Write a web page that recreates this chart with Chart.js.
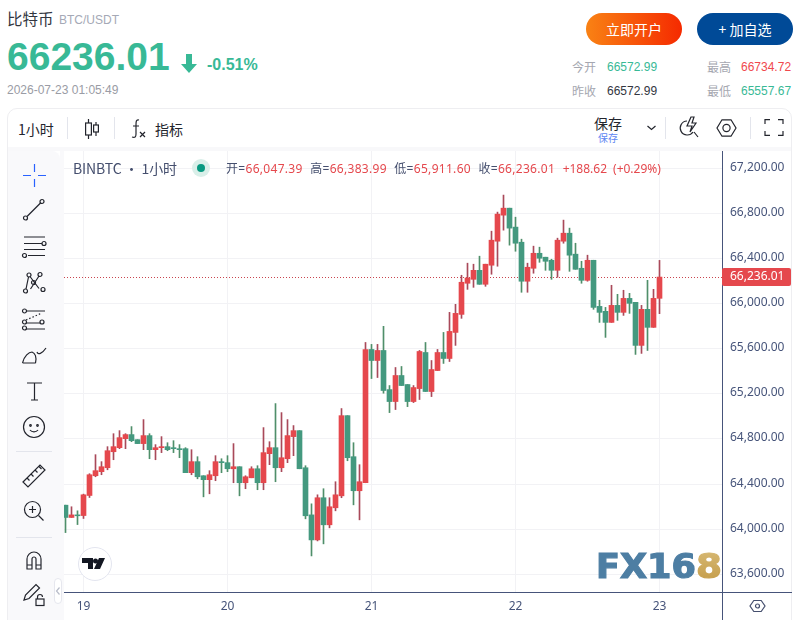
<!DOCTYPE html>
<html>
<head>
<meta charset="utf-8">
<script src="https://cdn.jsdelivr.net/npm/chart.js"></script>
<style>
    html, body { margin: 0; padding: 0; background: #fff; width: 800px; height: 620px; overflow: hidden; }
    body { font-family: "Liberation Sans", "Noto Sans CJK SC", sans-serif; position: relative; }
    .t { position: absolute; white-space: nowrap; line-height: 1; }
    .cjk { font-family: "Noto Sans CJK SC", sans-serif; }
    svg.i { position: absolute; fill: none; stroke: #23252d; stroke-width: 1.2; overflow: visible; }
    .sep { position: absolute; background: #e3e5ec; }
    .btn { position: absolute; top: 13px; width: 96px; height: 32px; border-radius: 16px; color: #fff; font: 14px/32px "Noto Sans CJK SC", sans-serif; text-align: center; }
    #card { position: absolute; left: 7px; top: 108px; width: 785px; height: 520px; border: 1px solid #eeeef1; border-radius: 10px 10px 0 0; box-sizing: border-box; }
    #band { position: absolute; left: 8px; top: 147px; width: 783px; height: 4px; background: #f8f8fa; }
    #side { position: absolute; left: 8px; top: 151px; width: 52px; height: 469px; background: #f9f9fb; border-radius: 0 8px 0 0; }
    #gutter { position: absolute; left: 60px; top: 151px; width: 4px; height: 469px; background: #f9f9fb; }
    #chart { position: absolute; left: 64px; top: 151px; }
    #legend { position: absolute; left: 226px; top: 163px; font: 12px "Noto Sans", "Noto Sans CJK SC", sans-serif; color: #454f6e; white-space: nowrap; line-height: 1; letter-spacing: .3px; }
    #legend b { font-weight: normal; color: #e5484d; margin-right: 7.500px; }
    #legend b:nth-of-type(n+5) { letter-spacing: 0; margin-right: 6px; }
</style>
</head>
<body>
<div id="card"></div>
<div id="band"></div>
<div id="side"></div>
<div id="gutter"></div>
<canvas id="chart" width="728" height="469" style="width:728px;height:469px"></canvas>

<!-- page header -->
<div class="t cjk" style="left:7px;top:11px;font-size:15.500px;color:#33363f">比特币</div>
<div class="t" style="left:59px;top:14px;font-size:12px;color:#a5a9b6">BTC/USDT</div>
<div class="t" style="left:7px;top:37px;font-size:39px;font-weight:bold;color:#38b996">66236.01</div>
<svg class="i" style="left:181px;top:54px;stroke:none;fill:#38b996" width="16" height="19"><path d="M5 0h6v10h5l-8 9-8-9h5z"/></svg>
<div class="t" style="left:207px;top:57px;font-size:16px;font-weight:bold;color:#38b996">-0.51%</div>
<div class="t" style="left:7px;top:84px;font-size:12px;color:#9a9ca5">2026-07-23 01:05:49</div>

<div class="btn" style="left:586px;background:linear-gradient(90deg,#f98214,#f52a00)">立即开户</div>
<div class="btn" style="left:697px;background:#004a97">+ 加自选</div>

<div class="t cjk" style="left:572px;top:61px;font-size:12px;color:#a5a7b0">今开</div>
<div class="t" style="left:607px;top:61px;font-size:12px;color:#38b996">66572.99</div>
<div class="t cjk" style="left:707px;top:61px;font-size:12px;color:#a5a7b0">最高</div>
<div class="t" style="left:741px;top:61px;font-size:12px;color:#f0484d">66734.72</div>
<div class="t cjk" style="left:572px;top:85px;font-size:12px;color:#a5a7b0">昨收</div>
<div class="t" style="left:607px;top:85px;font-size:12px;color:#33363f">66572.99</div>
<div class="t cjk" style="left:707px;top:85px;font-size:12px;color:#a5a7b0">最低</div>
<div class="t" style="left:741px;top:85px;font-size:12px;color:#38b996">65557.67</div>

<!-- top toolbar -->
<div class="t cjk" style="left:18px;top:122px;font-size:14px;color:#23252d">1小时</div>
<div class="sep" style="left:67px;top:117px;width:1px;height:22px"></div>
<svg class="i" style="left:85px;top:119px" width="14" height="20"><path d="M3.500 0v20M11 3v14"/><rect x=".6" y="4" width="5.800" height="12" fill="#fff"/><rect x="8.600" y="6" width="4.800" height="7" fill="#fff"/></svg>
<div class="sep" style="left:114px;top:117px;width:1px;height:22px"></div>
<svg class="i" style="left:131px;top:119px" width="15" height="20"><path d="M8 1C5 0 5 3 5 6v9c0 3-1 4-4 3M2 7h6M9 13l5 5M14 13l-5 5"/></svg>
<div class="t cjk" style="left:155px;top:122px;font-size:14px;color:#23252d">指标</div>
<div class="t cjk" style="left:594px;top:116px;font-size:14px;color:#23252d">保存</div>
<div class="t cjk" style="left:598px;top:133px;font-size:10px;color:#5d86f2">保存</div>
<svg class="i" style="left:647px;top:125px" width="9" height="6"><path d="M.5 1l4 3.500 4-3.500"/></svg>
<div class="sep" style="left:665px;top:117px;width:1px;height:22px"></div>
<svg class="i" style="left:680px;top:117px" width="18" height="21"><path d="M7 4a7 7 0 1 0 6 11M14 15l4 5M11 0l-4 9h5l-2 6 6-9h-4l2-6z"/></svg>
<svg class="i" style="left:717px;top:119px" width="19" height="18"><path d="M5 .8h9l5 8.200-5 8.200H5L0 9z"/><circle cx="9.500" cy="9" r="3.600"/></svg>
<div class="sep" style="left:750px;top:117px;width:1px;height:22px"></div>
<svg class="i" style="left:765px;top:119px" width="18" height="17"><path d="M0 5V.6h5M13 .6h5V5M18 12v4.400h-5M5 16.400H0V12"/></svg>

<!-- drawing tools -->
<svg class="i" style="left:23px;top:164px;stroke:#2962ff" width="23" height="23"><path d="M0 11.500h8M15 11.500h8M11.500 0v8M11.500 15v8"/></svg>
<svg class="i" style="left:23px;top:199px" width="22" height="22"><circle cx="2.500" cy="19" r="2"/><circle cx="19" cy="2.500" r="2"/><path d="M4 17.500L17.500 4"/></svg>
<svg class="i" style="left:22px;top:236px" width="24" height="22"><path d="M2 1h21M2 7.500h19M2 13.500h21M6 19.500h17"/><circle cx="22" cy="7.500" r="2" fill="#f9f9fb"/><circle cx="2.500" cy="19.500" r="2" fill="#f9f9fb"/></svg>
<svg class="i" style="left:23px;top:272px" width="23" height="22"><circle cx="2.500" cy="19" r="2"/><circle cx="6" cy="3" r="2"/><circle cx="17" cy="2.500" r="2"/><circle cx="20" cy="17.500" r="2"/><circle cx="10.500" cy="10.500" r="2"/><path d="M3 17L5.500 5M7 4.500L16 16.500M16 4L7.500 17"/></svg>
<svg class="i" style="left:22px;top:309px" width="24" height="21"><path d="M4 2h19M4 14h15M4 20h19"/><path d="M4 11L20 4" stroke-dasharray="1.500 2"/><circle cx="2.500" cy="2" r="2" fill="#f9f9fb"/><circle cx="2.500" cy="13" r="2" fill="#f9f9fb"/><circle cx="2.500" cy="19" r="2" fill="#f9f9fb"/><circle cx="20" cy="13" r="2" fill="#f9f9fb"/></svg>
<svg class="i" style="left:22px;top:346px" width="26" height="18"><path d="M.5 17h13M.5 17C2 10 7 6 10 6c3 1 5 5 3.500 11M15 6c1 3 5 2 9-4"/></svg>
<svg class="i" style="left:27px;top:382px" width="15" height="18"><path d="M0 1h15M7.500 1v17M4 18h7"/></svg>
<svg class="i" style="left:23px;top:416px" width="22" height="22"><circle cx="11" cy="11" r="10.500"/><circle cx="7.500" cy="9.500" r=".8"/><circle cx="14.500" cy="9.500" r=".8"/><path d="M7 14c2 2.500 6 2.500 8 0"/></svg>
<div class="sep" style="left:16px;top:451px;width:36px;height:1px"></div>
<svg class="i" style="left:22px;top:464px" width="24" height="24"><path d="M1 18L18 1l5 5L6 23z"/><path d="M5 14l2.500 2.500M9 10l2.500 2.500M13 6l2.500 2.500M17 2.500l2.500 2.500"/></svg>
<svg class="i" style="left:24px;top:501px" width="20" height="20"><circle cx="8.500" cy="8.500" r="8"/><path d="M8.500 5v7M5 8.500h7M14.500 14.500l5 5"/></svg>
<div class="sep" style="left:16px;top:537px;width:36px;height:1px"></div>
<svg class="i" style="left:26px;top:551px" width="16" height="19"><path d="M1 18V8a7 7 0 0 1 14 0v10h-5V8a2 2 0 0 0-4 0v10zM1 14h5M10 14h5"/></svg>
<svg class="i" style="left:23px;top:583px" width="24" height="24"><path d="M1 17l1.500-5L13 1.500 16.500 5 6 15.500z"/><rect x="13" y="16" width="8" height="6.500"/><path d="M14.500 16v-2a2.500 2.500 0 0 1 5 0"/></svg>
<div style="position:absolute;left:54px;top:578px;width:8px;height:26px;background:#fff;border:1px solid #e6e7ee;border-radius:4px;box-sizing:border-box"></div>
<svg class="i" style="left:56px;top:587px;stroke:#b8bcc9" width="4" height="8"><path d="M3.500 .5L.5 4l3 3.500"/></svg>

<!-- chart overlays -->
<div class="t cjk" style="left:73px;top:161px;font-size:14px;color:#454f6e;letter-spacing:-.1px">BINBTC&nbsp;·&nbsp;1小时</div>
<div style="position:absolute;left:192px;top:159px;width:18px;height:18px;border-radius:50%;background:#d9efe9"></div>
<div style="position:absolute;left:197px;top:164px;width:8px;height:8px;border-radius:50%;background:#089981"></div>
<div id="legend"></div>

<div style="position:absolute;left:78px;top:547px;width:32px;height:32px;border-radius:50%;background:#fff;border:1px solid #e3e5ef"></div>
<svg style="position:absolute;left:82px;top:557px" width="24" height="14"><path d="M0 1h11v11H6V6H0zM17 1h6l-5 11h-6z" fill="#131722"/><circle cx="13.500" cy="4" r="2.500" fill="#131722"/></svg>

<svg style="position:absolute;left:590px;top:545px" width="140" height="40">
    <defs><linearGradient id="gold" x1="0" y1="0" x2="0" y2="1"><stop offset="0" stop-color="#d8bb78"/><stop offset="1" stop-color="#c39a45"/></linearGradient></defs>
    <text x="6" y="33" textLength="100" lengthAdjust="spacingAndGlyphs" font-family="DejaVu Sans" font-weight="bold" font-size="34" fill="#4d7ea3" stroke="#4d7ea3" stroke-width="1.200">FX16</text>
    <text x="106" y="33" textLength="26" lengthAdjust="spacingAndGlyphs" font-family="DejaVu Sans" font-weight="bold" font-size="34" fill="url(#gold)" stroke="url(#gold)" stroke-width="1.200">8</text>
</svg>

<svg class="i" style="left:750px;top:600px;stroke:#454f6e" width="15" height="12"><path d="M3.800 .5h7.400L15 6l-3.800 5.500H3.800L0 6z"/><circle cx="7.500" cy="6" r="2"/></svg>

<script>
// 1 hour candles (first candle is 3 hours before the 19th)
const opens = [
    64213, 64104, 64127, 64121, 64299, 64474, 64510, 64545, 64687, 64723,
    64803, 64839, 64794, 64759, 64830, 64705, 64723, 64732, 64723, 64714,
    64714, 64501, 64599, 64474, 64439, 64474, 64599, 64590, 64536, 64554,
    64412, 64456, 64536, 64412, 64670, 64723, 64545, 64625, 64821, 64874,
    64545, 64127, 63905, 64279, 64039, 64190, 64296, 65007, 64643, 64341,
    64412, 65594, 65496, 65585, 65238, 65132, 65363, 65283, 65132, 65247,
    65567, 65221, 65407, 65567, 65514, 65745, 65905, 66181, 66216, 66296,
    66172, 66341, 66554, 66785, 66847, 66679, 66545, 66199, 66314, 66447,
    66412, 66385, 66296, 66554, 66625, 66439, 66314, 66207, 66385, 65976,
    65932, 65834, 65985, 65923, 66047, 66012, 65630, 65950, 65790, 66047.39
];
const highs = [
    64213, 64199, 64163, 64311, 64492, 64661, 64599, 64732, 64847, 64874,
    64847, 64910, 64794, 64972, 64847, 64750, 64821, 64767, 64785, 64750,
    64723, 64705, 64643, 64474, 64519, 64652, 64625, 64652, 64759, 64554,
    64474, 64554, 64563, 64901, 64776, 65114, 65034, 64972, 64919, 64874,
    64563, 64225, 64305, 64359, 64279, 64421, 65070, 65007, 64767, 64572,
    65656, 65639, 65639, 65799, 65274, 65434, 65443, 65283, 65274, 65585,
    65656, 65496, 65594, 65745, 65923, 65994, 66252, 66359, 66350, 66421,
    66350, 66643, 66812, 66963, 66847, 66767, 66572, 66359, 66510, 66501,
    66412, 66394, 66581, 66741, 66670, 66536, 66376, 66430, 66385, 66030,
    65967, 66163, 66083, 66119, 66092, 66012, 65985, 66207, 66127, 66383.99
];
const lows = [
    63970, 64104, 64041, 64095, 64281, 64465, 64483, 64527, 64616, 64714,
    64714, 64776, 64759, 64705, 64625, 64616, 64679, 64696, 64679, 64634,
    64501, 64483, 64447, 64287, 64314, 64430, 64501, 64510, 64412, 64296,
    64359, 64456, 64350, 64350, 64572, 64421, 64510, 64590, 64652, 64536,
    64092, 63763, 63896, 63870, 64012, 64163, 64279, 64607, 64216, 64083,
    64412, 65336, 65345, 65206, 65034, 65061, 65274, 65087, 65123, 65150,
    65221, 65176, 65407, 65470, 65487, 65630, 65870, 66127, 66145, 66172,
    66154, 66261, 66332, 66652, 66519, 66465, 66101, 66101, 66270, 66367,
    66296, 66216, 66234, 66536, 66287, 66305, 66181, 66199, 65950, 65834,
    65701, 65834, 65852, 65896, 65914, 65550, 65559, 65585, 65790, 65911.60
];
const closes = [
    64104, 64127, 64119, 64305, 64483, 64519, 64554, 64696, 64732, 64812,
    64839, 64785, 64759, 64830, 64705, 64723, 64732, 64705, 64714, 64705,
    64501, 64599, 64465, 64439, 64483, 64599, 64590, 64536, 64554, 64412,
    64465, 64536, 64412, 64679, 64723, 64545, 64634, 64830, 64874, 64536,
    64119, 63905, 64279, 64039, 64199, 64305, 65007, 64634, 64341, 64421,
    65594, 65496, 65585, 65230, 65132, 65363, 65274, 65132, 65256, 65576,
    65221, 65416, 65567, 65514, 65754, 65914, 66190, 66228, 66296, 66172,
    66350, 66563, 66794, 66847, 66670, 66536, 66199, 66323, 66447, 66403,
    66376, 66296, 66563, 66625, 66430, 66305, 66207, 66385, 65967, 65923,
    65834, 65985, 65923, 66047, 66003, 65630, 65950, 65790, 66047, 66236.01
];
const dayLabels = ['19', '20', '21', '22', '23'];
const dayHours = [0, 24, 48, 72, 96];
const priceTicks = [63600, 64000, 64400, 64800, 65200, 65600, 66000, 66400, 66800, 67200];

const legendItems = [
    ['开=', '66,047.39'],
    ['高=', '66,383.99'],
    ['低=', '65,911.60'],
    ['收=', '66,236.01'],
    ['', '+188.62'],
    ['', '(+0.29%)']
];

const UP = '#e5484d', DOWN = '#44997f';
const UP_WICK = '#a9495a', DOWN_WICK = '#4f8f6a';
const AXIS = '#46547a';
const GRID = '#f2f2f5';
const lastPrice = closes[closes.length - 1];

function money(v) {
    return v.toLocaleString('en-US', { minimumFractionDigits: 2, maximumFractionDigits: 2 });
}

document.getElementById('legend').innerHTML = legendItems
    .map(function(it) { return it[0] + '<b>' + it[1] + '</b>'; }).join('');

// axis lines and the last price marker sit on top of the normal scales
const lastPricePlugin = {
    id: 'lastPrice',
    beforeDatasetsDraw(chart) {
        const { ctx, chartArea, scales } = chart;
        const y = Math.round(scales.y.getPixelForValue(lastPrice)) + 0.5;
        ctx.save();
        ctx.strokeStyle = '#c9444e';
        ctx.lineWidth = 1;
        ctx.setLineDash([1, 2]);
        ctx.beginPath();
        ctx.moveTo(chartArea.left, y);
        ctx.lineTo(chartArea.right, y);
        ctx.stroke();
        ctx.restore();
    },
    afterDraw(chart) {
        const { ctx, chartArea, scales, width, height } = chart;
        const y = Math.round(scales.y.getPixelForValue(lastPrice));
        ctx.save();
        ctx.strokeStyle = AXIS;
        ctx.lineWidth = 1;
        ctx.beginPath();
        ctx.moveTo(chartArea.right + 0.5, 0);
        ctx.lineTo(chartArea.right + 0.5, height);
        ctx.moveTo(0, chartArea.bottom + 0.5);
        ctx.lineTo(width, chartArea.bottom + 0.5);
        ctx.stroke();
        ctx.fillStyle = UP;
        ctx.beginPath();
        ctx.roundRect(chartArea.right, y - 9, width - chartArea.right - 1, 18, 2);
        ctx.fill();
        ctx.fillStyle = '#fff';
        ctx.font = '12px "Noto Sans"';
        ctx.textBaseline = 'middle';
        ctx.fillText(money(lastPrice), chartArea.right + 8, y);
        ctx.restore();
    }
};

function candleColor(up, down) {
    return function(c) { return closes[c.dataIndex] >= opens[c.dataIndex] ? up : down; };
}

new Chart(document.getElementById('chart'), {
    type: 'bar',
    data: {
        datasets: [
            {
                label: 'Body',
                data: opens.map(function(o, i) { return { x: i - 3, y: [o, closes[i]] }; }),
                backgroundColor: candleColor(UP, DOWN),
                barThickness: 5,
                grouped: false
            },
            {
                label: 'Wick',
                data: lows.map(function(l, i) { return { x: i - 3, y: [l, highs[i]] }; }),
                backgroundColor: candleColor(UP_WICK, DOWN_WICK),
                barThickness: 1,
                grouped: false
            }
        ]
    },
    options: {
        responsive: false,
        animation: false,
        layout: { padding: 0 },
        plugins: { legend: { display: false }, tooltip: { enabled: false } },
        scales: {
            x: {
                type: 'linear',
                offset: false,
                min: -3.25,
                max: 106.4167,
                afterBuildTicks(scale) { scale.ticks = dayHours.map(function(v) { return { value: v }; }); },
                afterFit(scale) { scale.height = 28; scale.paddingLeft = 0; scale.paddingRight = 0; },
                grid: { color: GRID, drawTicks: false, offset: false },
                border: { display: false },
                ticks: {
                    autoSkip: false,
                    maxRotation: 0,
                    padding: 7,
                    color: AXIS,
                    font: { family: 'Noto Sans', size: 12 },
                    callback(v) { return dayLabels[dayHours.indexOf(v)]; }
                }
            },
            y: {
                position: 'right',
                min: 63443,
                max: 67354,
                afterBuildTicks(scale) { scale.ticks = priceTicks.map(function(v) { return { value: v }; }); },
                afterFit(scale) { scale.width = 70; scale.paddingTop = 0; scale.paddingBottom = 0; },
                grid: { color: GRID, drawTicks: false },
                border: { display: false },
                ticks: {
                    padding: 8,
                    color: AXIS,
                    // two line label with a tiny line height lifts the text 1px above its grid line
                    font: { family: 'Noto Sans', size: 12, lineHeight: '2px' },
                    callback(v) { return [money(v), '']; }
                }
            }
        }
    },
    plugins: [lastPricePlugin]
});
</script>
</body>
</html>
